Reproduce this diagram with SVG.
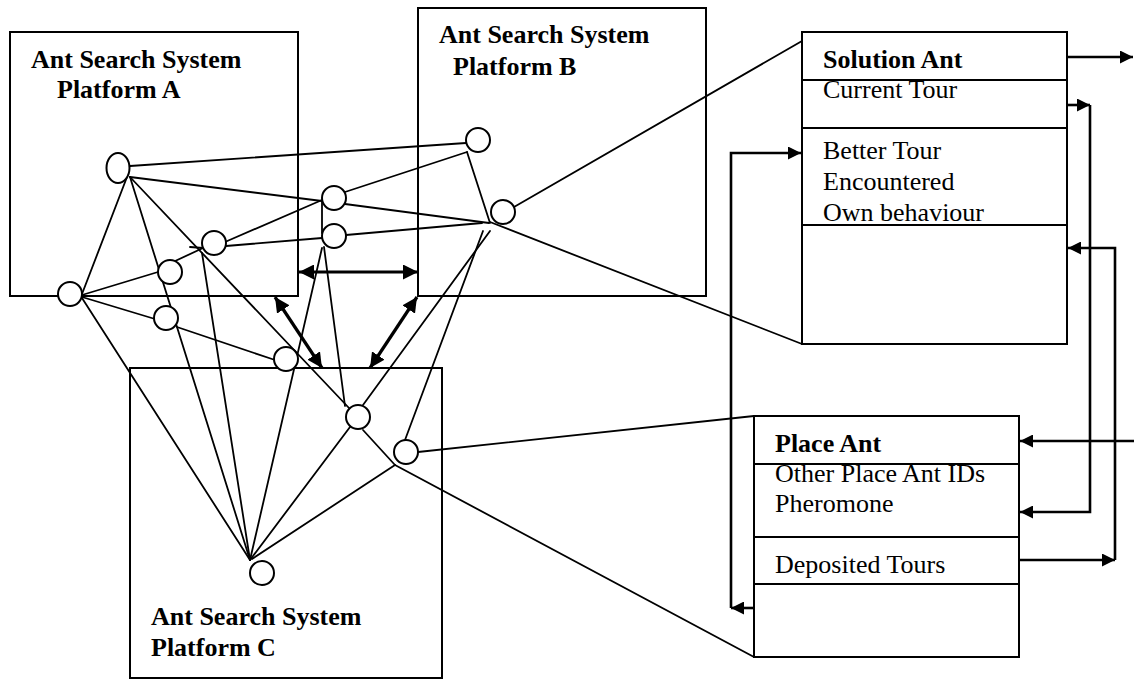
<svg xmlns="http://www.w3.org/2000/svg" width="1134" height="680" viewBox="0 0 1134 680">
<style>
.box{fill:#fff;stroke:#000;stroke-width:2}
.sep{stroke:#000;stroke-width:2}
.ln{stroke:#000;stroke-width:1.8;fill:none;stroke-linecap:round}
.nd{fill:#fff;stroke:#000;stroke-width:2}
.thick{stroke:#000;stroke-width:3.2;fill:none}
.conn{stroke:#000;stroke-width:2.6;fill:none}
text{font-family:"Liberation Serif","Times New Roman",serif;font-size:26px;fill:#000}
.b{font-weight:bold}
</style>
<defs>
<marker id="big" viewBox="0 0 10 10" refX="10" refY="5" markerWidth="15" markerHeight="15" markerUnits="userSpaceOnUse" orient="auto-start-reverse"><path d="M0,0 L10,5 L0,10 z" fill="#000"/></marker>
<marker id="sm" viewBox="0 0 10 10" refX="10" refY="5" markerWidth="13" markerHeight="13" markerUnits="userSpaceOnUse" orient="auto"><path d="M0,0 L10,5 L0,10 z" fill="#000"/></marker>
</defs>

<g id="platformA">
<rect class="box" x="10" y="32" width="288" height="264"/>
<text class="b" x="31" y="68">Ant Search System</text>
<text class="b" x="57" y="98">Platform A</text>
</g>
<g id="platformB">
<rect class="box" x="418" y="8" width="288" height="288"/>
<text class="b" x="439" y="43">Ant Search System</text>
<text class="b" x="453" y="75">Platform B</text>
</g>
<g id="platformC">
<rect class="box" x="130" y="368" width="312" height="310"/>
<text class="b" x="151" y="625">Ant Search System</text>
<text class="b" x="151" y="656">Platform C</text>
</g>

<g id="solutionAnt">
<rect class="box" x="802" y="32" width="265" height="312"/>
<line class="sep" x1="802" y1="80" x2="1067" y2="80"/>
<line class="sep" x1="802" y1="128" x2="1067" y2="128"/>
<line class="sep" x1="802" y1="225" x2="1067" y2="225"/>
<text class="b" x="823" y="68">Solution Ant</text>
<text x="823" y="98">Current Tour</text>
<text x="823" y="159">Better Tour</text>
<text x="823" y="190">Encountered</text>
<text x="823" y="221">Own behaviour</text>
</g>

<g id="placeAnt">
<rect class="box" x="754" y="416" width="265" height="241"/>
<line class="sep" x1="754" y1="464" x2="1019" y2="464"/>
<line class="sep" x1="754" y1="537" x2="1019" y2="537"/>
<line class="sep" x1="754" y1="584" x2="1019" y2="584"/>
<text class="b" x="775" y="452">Place Ant</text>
<text x="775" y="482">Other Place Ant IDs</text>
<text x="775" y="512">Pheromone</text>
<text x="775" y="573">Deposited Tours</text>
</g>

<g id="connectors">
<line class="ln" x1="130" y1="166" x2="466" y2="143"/>
<line class="ln" x1="130" y1="177" x2="322" y2="201"/>
<line class="ln" x1="345" y1="204" x2="489" y2="223"/>
<line class="ln" x1="345" y1="192" x2="467" y2="152"/>
<line class="ln" x1="467" y1="152" x2="490" y2="223"/>
<line class="ln" x1="346" y1="235" x2="482" y2="223"/>
<line class="ln" x1="127" y1="177" x2="82" y2="294"/>
<line class="ln" x1="130" y1="177" x2="250" y2="560"/>
<line class="ln" x1="130" y1="177" x2="349" y2="408"/>
<line class="ln" x1="82" y1="295" x2="158" y2="272"/>
<line class="ln" x1="173" y1="262" x2="203" y2="248"/>
<line class="ln" x1="190" y1="247" x2="203" y2="248"/>
<line class="ln" x1="225" y1="242" x2="322" y2="200"/>
<line class="ln" x1="226" y1="246" x2="322" y2="238"/>
<line class="ln" x1="202" y1="253" x2="250" y2="560"/>
<line class="ln" x1="82" y1="297" x2="155" y2="319"/>
<line class="ln" x1="177" y1="327" x2="275" y2="360"/>
<line class="ln" x1="82" y1="298" x2="250" y2="560"/>
<line class="ln" x1="322" y1="201" x2="322" y2="233"/>
<line class="ln" x1="322" y1="248" x2="250" y2="560"/>
<line class="ln" x1="324" y1="247" x2="345" y2="406"/>
<line class="ln" x1="490" y1="231" x2="363" y2="405"/>
<line class="ln" x1="483" y1="231" x2="405" y2="440"/>
<line class="ln" x1="350" y1="427" x2="250" y2="560"/>
<line class="ln" x1="363" y1="430" x2="395" y2="465"/>
<line class="ln" x1="395" y1="465" x2="754" y2="657"/>
<line class="ln" x1="395" y1="465" x2="252" y2="559"/>
<line class="ln" x1="418" y1="452" x2="754" y2="416"/>
<line class="ln" x1="514" y1="207" x2="802" y2="41"/>
<line class="ln" x1="490" y1="222" x2="802" y2="344"/>

<line class="thick" x1="299" y1="272" x2="418" y2="272" marker-start="url(#big)" marker-end="url(#big)"/>
<line class="thick" x1="275" y1="297" x2="322" y2="368" marker-start="url(#big)" marker-end="url(#big)"/>
<line class="thick" x1="417" y1="297" x2="370" y2="368" marker-start="url(#big)" marker-end="url(#big)"/>

<line class="conn" x1="1067" y1="57" x2="1133" y2="57" marker-end="url(#sm)"/>
<line class="conn" x1="1067" y1="105" x2="1090" y2="105" marker-end="url(#sm)"/>
<path class="conn" d="M1090,105 V512 H1020" marker-end="url(#sm)"/>
<line class="conn" x1="1019" y1="560" x2="1115" y2="560" marker-end="url(#sm)"/>
<path class="conn" d="M1115,560 V248 H1068" marker-end="url(#sm)"/>
<line class="conn" x1="1134" y1="441" x2="1020" y2="441" marker-end="url(#sm)"/>
<line class="conn" x1="754" y1="608" x2="731" y2="608" marker-end="url(#sm)"/>
<path class="conn" d="M731,608 V153 H801" marker-end="url(#sm)"/>
</g>

<g id="n1"><ellipse class="nd" cx="118" cy="168" rx="11.5" ry="15"/></g>
<g id="n2"><circle class="nd" cx="478" cy="140" r="12"/></g>
<g id="n3"><circle class="nd" cx="334" cy="198" r="12"/></g>
<g id="n4"><circle class="nd" cx="334" cy="236" r="12"/></g>
<g id="n5"><circle class="nd" cx="503" cy="212" r="12"/></g>
<g id="n6"><circle class="nd" cx="214" cy="243" r="12"/></g>
<g id="n7"><circle class="nd" cx="170" cy="272" r="12"/></g>
<g id="n8"><circle class="nd" cx="70" cy="294" r="12"/></g>
<g id="n9"><circle class="nd" cx="166" cy="318" r="12"/></g>
<g id="n10"><circle class="nd" cx="286" cy="359" r="12"/></g>
<g id="n11"><circle class="nd" cx="358" cy="417" r="12"/></g>
<g id="n12"><circle class="nd" cx="406" cy="452" r="12"/></g>
<g id="n13"><circle class="nd" cx="262" cy="573" r="12"/></g>
</svg>
